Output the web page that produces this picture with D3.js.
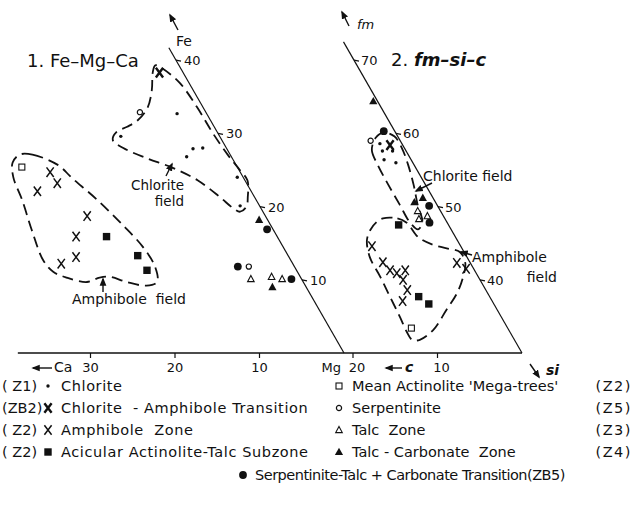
<!DOCTYPE html>
<html>
<head>
<meta charset="utf-8">
<script src="https://cdn.jsdelivr.net/npm/d3@7"></script>
<style>
body { margin: 0; background: #fff; }
text { white-space: pre; }
</style>
</head>
<body>
<svg width="634" height="511"></svg>
<script>
// 1. Fe-Mg-Ca : [Ca, Fe]
var fe_chlorite     = [[3.5,32.7],[11.7,29.6],[4.0,27.9],[2.8,28.0],[5.3,26.8],[0.7,24.0],[2.3,20.1]];
var fe_transition   = [[2.8,38.3]];
var fe_amphibole    = [[22.5,24.7],[22.4,23.2],[25.3,22.1],[21.1,18.7],[23.8,15.9],[25.2,13.1],[27.4,12.2]];
var fe_acicular     = [[20.2,15.9],[17.8,13.3],[17.7,11.3]];
var fe_megatrees    = [[25.5,25.4]];
var fe_serpentinite = [[7.8,32.9],[5.4,11.8]];
var fe_talc         = [[6.0,10.1],[3.4,10.4],[2.3,10.1]];
var fe_talccarb     = [[1.0,18.2],[4.0,9.0]];
var fe_serptalc     = [[0.7,16.9],[6.7,11.8],[1.2,10.1]];

// 2. fm-si-c : [c, fm]
var fm_chlorite     = [[2.6,58.6],[2.8,57.6],[1.6,57.6],[3.2,56.4],[2.0,56.0]];
var fm_transition   = [[1.5,58.4]];
var fm_amphibole    = [[10.5,44.6],[10.3,42.4],[10.0,41.3],[9.4,40.9],[8.2,41.3],[9.1,40.0],[9.3,38.6],[10.6,37.1],[1.6,42.3],[0.9,41.5]];
var fm_acicular     = [[5.9,47.5],[8.4,37.7],[7.7,36.7]];
var fm_megatrees    = [[11.4,33.4]];
var fm_serpentinite = [[3.5,59.0]];
var fm_talc         = [[2.7,49.4],[3.1,48.3],[1.9,48.7]];
var fm_talccarb     = [[0.5,64.4],[2.5,50.6],[1.2,51.2]];
var fm_serptalc     = [[1.3,60.3],[1.0,50.1],[2.1,47.8]];

// field outlines
var fe_chlorite_field  = [[2.8,39.3],[2.2,38.9],[1.1,36.9],[0.7,33.6],[0.6,30.1],[0.3,27.1],[-0.1,25.0],[-0.3,23.6],[0.8,21.3],[1.6,20.0],[2.7,19.3],[3.3,19.8],[4.1,21.3],[5.6,23.6],[7.7,25.3],[10.1,26.6],[12.2,28.0],[12.9,29.1],[11.9,30.2],[10.3,30.9],[8.6,31.8],[6.6,33.5],[4.9,35.9],[3.6,38.3]];
var fe_amphibole_field = [[24.9,27.1],[23.4,27.1],[21.1,25.7],[20.3,23.9],[18.8,20.9],[17.5,17.5],[16.6,14.5],[16.5,11.8],[17.3,9.7],[18.8,9.2],[20.9,9.7],[22.5,10.4],[23.8,10.3],[25.6,9.7],[27.7,10.3],[28.9,11.1],[29.3,12.7],[28.6,16.8],[27.7,20.9],[27.2,24.0],[26.3,26.0]];
var fm_chlorite_field  = [[2.7,59.4],[4.0,57.7],[4.3,55.7],[4.4,53.0],[4.4,50.2],[4.4,47.9],[3.9,46.9],[2.9,47.9],[2.3,50.2],[1.4,53.0],[0.7,55.7],[0.3,58.0],[0.4,59.6],[1.4,60.1]];
var fm_amphibole_field = [[7.3,48.4],[5.6,48.4],[4.8,47.8],[4.4,45.8],[3.2,44.8],[1.8,44.3],[0.5,43.8],[0.6,42.3],[1.8,40.4],[3.6,38.2],[6.0,35.9],[9.0,33.1],[11.2,31.8],[12.1,31.8],[12.2,32.9],[12.0,34.9],[11.8,37.7],[11.6,40.4],[11.5,43.1],[10.7,45.4],[9.6,46.8],[8.3,47.9]];

// ticks
var ca_ticks = [10, 20, 30];
var fe_ticks = [10, 20, 30, 40];
var c_ticks  = [10, 20];
var fm_ticks = [40, 50, 60, 70];

// legend
var legend_left = [
    ["( Z1)", "dot", "Chlorite"],
    ["(ZB2)", "xbold", "Chlorite  - Amphibole Transition"],
    ["( Z2)", "x", "Amphibole  Zone"],
    ["( Z2)", "sqfill", "Acicular Actinolite-Talc Subzone"],
];
var legend_right = [
    ["sqopen", "Mean Actinolite 'Mega-trees'", "(Z2)"],
    ["circopen", "Serpentinite", "(Z5)"],
    ["triopen", "Talc  Zone", "(Z3)"],
    ["trifill", "Talc - Carbonate  Zone", "(Z4)"],
];
var legend_last = ["circfill", "Serpentinite-Talc + Carbonate Transition(ZB5)"];

var FONT = "'DejaVu Sans', sans-serif";
var svg = d3.select("svg");

// scales (both triangles share one 60deg grid)
var BASE_Y = 353;
var caScale = d3.scaleLinear().domain([0, 40]).range([344, 344 - 40*8.45]);
var feY = d3.scaleLinear().domain([0, 40]).range([BASE_Y, BASE_Y - 40*7.32]);
var feX = d3.scaleLinear().domain([0, 40]).range([0, -40*4.2]);
var cScale = d3.scaleLinear().domain([0, 20]).range([522, 522 - 20*8.45]);
var fmY = d3.scaleLinear().domain([30, 70]).range([BASE_Y, BASE_Y - 40*7.32]);
var fmX = d3.scaleLinear().domain([30, 70]).range([0, -40*4.2]);

function posL(ca, fe){ return [caScale(ca) + feX(fe), feY(fe)]; }
function posR(c, fm){ return [cScale(c) + fmX(fm), fmY(fm)]; }

function add_marker(g, type){
    if(type == "dot"){
        g.append("circle").attr("r", 1.7).attr("fill", "#111");
    } else if(type == "circfill"){
        g.append("circle").attr("r", 3.9).attr("fill", "#111");
    } else if(type == "circopen"){
        g.append("circle").attr("r", 2.6).attr("fill", "#fff").attr("stroke", "#111").attr("stroke-width", 1.2);
    } else if(type == "sqfill"){
        g.append("rect").attr("x", -3.7).attr("y", -3.7).attr("width", 7.4).attr("height", 7.4).attr("fill", "#111");
    } else if(type == "sqopen"){
        g.append("rect").attr("x", -3).attr("y", -3).attr("width", 6).attr("height", 6)
            .attr("fill", "#fff").attr("stroke", "#111").attr("stroke-width", 1.1);
    } else if(type == "trifill"){
        g.append("path").attr("d", "M0,-4.3L4.1,3.1L-4.1,3.1Z").attr("fill", "#111");
    } else if(type == "triopen"){
        g.append("path").attr("d", "M0,-3.6L3.3,2.6L-3.3,2.6Z")
            .attr("fill", "#fff").attr("stroke", "#111").attr("stroke-width", 1.1);
    } else if(type == "x" || type == "xbold"){
        g.append("path").attr("d", "M-3.6,-4.8L3.6,4.8M3.6,-4.8L-3.6,4.8")
            .attr("fill", "none").attr("stroke", "#111")
            .attr("stroke-width", type == "xbold" ? 2.4 : 1.5);
    }
}

function draw_points(data, type, pos){
    svg.append("g").selectAll("g")
        .data(data)
        .enter()
        .append("g")
        .attr("transform", function(d){ var p = pos(d[0], d[1]); return "translate(" + p[0] + "," + p[1] + ")"; })
        .each(function(){ add_marker(d3.select(this), type); });
}

function draw_field(data, pos){
    var line = d3.line()
        .x(function(d){ return pos(d[0], d[1])[0]; })
        .y(function(d){ return pos(d[0], d[1])[1]; })
        .curve(d3.curveCatmullRomClosed.alpha(0.5));
    svg.append("path")
        .attr("d", line(data))
        .attr("fill", "none")
        .attr("stroke", "#111")
        .attr("stroke-width", 1.8)
        .attr("stroke-dasharray", "11,6");
}

function text(x, y, s, size, anchor){
    return svg.append("text")
        .attr("x", x).attr("y", y)
        .attr("font-family", FONT)
        .attr("font-size", size)
        .attr("text-anchor", anchor || "start")
        .attr("fill", "#111")
        .text(s);
}

function arrow(x1, y1, x2, y2){
    svg.append("line")
        .attr("x1", x1).attr("y1", y1).attr("x2", x2).attr("y2", y2)
        .attr("stroke", "#111").attr("stroke-width", 1.4)
        .attr("marker-end", "url(#head)");
}

function draw_axes(){
    svg.append("defs").append("marker")
        .attr("id", "head").attr("viewBox", "0 0 10 10")
        .attr("refX", 8).attr("refY", 5)
        .attr("markerWidth", 6).attr("markerHeight", 6)
        .attr("orient", "auto")
        .append("path").attr("d", "M0,1L10,5L0,9Z").attr("fill", "#111");

    var ax = svg.append("g").attr("stroke", "#111").attr("stroke-width", 1.2);
    // baseline
    var b0 = posL(38.6, 0), b1 = posR(0, 30);
    ax.append("line").attr("x1", b0[0]).attr("y1", b0[1]).attr("x2", b1[0]).attr("y2", b1[1]).attr("stroke-width", 1.5);
    // slanted axes
    var f0 = posL(0, 0), f1 = posL(0, 41.7);
    ax.append("line").attr("x1", f0[0]).attr("y1", f0[1]).attr("x2", f1[0]).attr("y2", f1[1]);
    var m0 = posR(0, 30), m1 = posR(0, 72.5);
    ax.append("line").attr("x1", m0[0]).attr("y1", m0[1]).attr("x2", m1[0]).attr("y2", m1[1]);

    // base ticks
    ax.selectAll(".tca").data(ca_ticks).enter().append("line")
        .attr("x1", function(d){ return posL(d, 0)[0]; }).attr("x2", function(d){ return posL(d, 0)[0]; })
        .attr("y1", BASE_Y).attr("y2", BASE_Y + 5);
    ax.selectAll(".tc").data(c_ticks).enter().append("line")
        .attr("x1", function(d){ return posR(d, 30)[0]; }).attr("x2", function(d){ return posR(d, 30)[0]; })
        .attr("y1", BASE_Y).attr("y2", BASE_Y + 5);
    // slant ticks
    ax.selectAll(".tfe").data(fe_ticks).enter().append("line")
        .attr("x1", function(d){ return posL(0, d)[0]; }).attr("x2", function(d){ return posL(0, d)[0] + 5; })
        .attr("y1", function(d){ return posL(0, d)[1]; }).attr("y2", function(d){ return posL(0, d)[1] + 1; });
    ax.selectAll(".tfm").data(fm_ticks).enter().append("line")
        .attr("x1", function(d){ return posR(0, d)[0]; }).attr("x2", function(d){ return posR(0, d)[0] + 5; })
        .attr("y1", function(d){ return posR(0, d)[1]; }).attr("y2", function(d){ return posR(0, d)[1] + 1; });

    ca_ticks.forEach(function(d){ text(posL(d, 0)[0], 372, d, 13, "middle"); });
    c_ticks.forEach(function(d){ text(posR(d, 30)[0] + 4, 372, d, 13, "middle"); });
    fe_ticks.forEach(function(d){ var p = posL(0, d); text(p[0] + 8, p[1] + 5, d, 13); });
    fm_ticks.forEach(function(d){ var p = posR(0, d); text(p[0] + 7, p[1] + 5, d, 13); });

    // corner labels
    text(341, 372, "Mg", 13, "end");
    arrow(52, 368, 33, 368);
    text(54, 372, "Ca", 14);
    arrow(402, 368, 386, 368);
    text(405, 372, "c", 14).attr("font-style", "italic").attr("font-weight", "bold");
    arrow(530, 364, 539, 377);
    text(546, 375, "si", 14).attr("font-style", "italic").attr("font-weight", "bold");
    arrow(178, 30, 170, 15);
    text(176, 46, "Fe", 14);
    arrow(349, 26, 342, 12);
    text(357, 29, "fm", 13).attr("font-style", "italic");

    // titles
    text(27, 67, "1. Fe\u2013Mg\u2013Ca", 18);
    var t2 = text(391, 66, "2. ", 18);
    t2.append("tspan").attr("font-style", "italic").attr("font-weight", "bold").text("fm\u2013si\u2013c");
}

function draw_annotations(){
    text(184, 190, "Chlorite", 13.5, "end");
    text(184, 206, "field", 13.5, "end");
    arrow(166, 176, 172, 164);
    text(72, 304, "Amphibole  field", 14);
    arrow(103, 292, 103, 279);
    text(423, 181, "Chlorite field", 14);
    arrow(432, 183, 416, 191);
    text(472, 262, "Amphibole", 14);
    text(557, 282, "field", 14, "end");
    arrow(472, 255, 461, 252);
}

function draw_legend(){
    var ys = [386, 408, 430, 452];
    legend_left.forEach(function(d, i){
        text(2, ys[i] + 5, d[0], 14.5);
        add_marker(svg.append("g").attr("transform", "translate(48," + ys[i] + ")"), d[1]);
        text(61, ys[i] + 5, d[2], 14.5).attr("letter-spacing", 0.6);
    });
    legend_right.forEach(function(d, i){
        add_marker(svg.append("g").attr("transform", "translate(339," + ys[i] + ")"), d[0]);
        text(352, ys[i] + 5, d[1], 14.5);
        text(632, ys[i] + 5, d[2], 14.5, "end").attr("letter-spacing", 1.5);
    });
    add_marker(svg.append("g").attr("transform", "translate(243,475)"), legend_last[0]);
    text(255, 480, legend_last[1], 14.5).attr("letter-spacing", -0.5);
}

function draw_all(){
    svg.append("rect").attr("width", 634).attr("height", 511).attr("fill", "#fff");
    draw_field(fe_chlorite_field, posL);
    draw_field(fe_amphibole_field, posL);
    draw_field(fm_chlorite_field, posR);
    draw_field(fm_amphibole_field, posR);
    draw_axes();

    draw_points(fe_chlorite, "dot", posL);
    draw_points(fe_transition, "xbold", posL);
    draw_points(fe_amphibole, "x", posL);
    draw_points(fe_acicular, "sqfill", posL);
    draw_points(fe_megatrees, "sqopen", posL);
    draw_points(fe_serpentinite, "circopen", posL);
    draw_points(fe_talc, "triopen", posL);
    draw_points(fe_talccarb, "trifill", posL);
    draw_points(fe_serptalc, "circfill", posL);

    draw_points(fm_chlorite, "dot", posR);
    draw_points(fm_transition, "xbold", posR);
    draw_points(fm_amphibole, "x", posR);
    draw_points(fm_acicular, "sqfill", posR);
    draw_points(fm_megatrees, "sqopen", posR);
    draw_points(fm_serpentinite, "circopen", posR);
    draw_points(fm_talc, "triopen", posR);
    draw_points(fm_talccarb, "trifill", posR);
    draw_points(fm_serptalc, "circfill", posR);

    draw_annotations();
    draw_legend();
}

draw_all();
</script>
</body>
</html>
